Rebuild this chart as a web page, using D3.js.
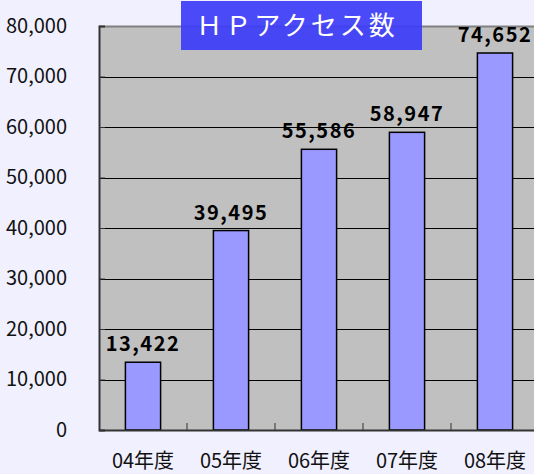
<!DOCTYPE html>
<html>
<head>
<meta charset="utf-8">
<script src="https://cdn.jsdelivr.net/npm/d3@7"></script>
<style>
  body { margin: 0; background: #f0f0ff; }
  svg { display: block; }
</style>
</head>
<body>
<div id="chart"></div>
<script>
// Chart data
const categories = ['04年度', '05年度', '06年度', '07年度', '08年度'];
const visits = [13422, 39495, 55586, 58947, 74652];
const yTicks = [0, 10000, 20000, 30000, 40000, 50000, 60000, 70000, 80000];
const chartTitle = 'ＨＰアクセス数';

const width = 534, height = 474;
const margin = { top: 26, right: -5, bottom: 44, left: 99 };
const plotW = width - margin.left - margin.right;
const plotH = height - margin.top - margin.bottom;
const font = '"Noto Sans CJK JP", "Noto Sans", sans-serif';

const svg = d3.select('#chart')
    .append('svg')
    .attr('width', width)
    .attr('height', height);

const g = svg.append('g')
    .attr('transform', `translate(${margin.left},${margin.top})`);

// Scales
const x = d3.scaleBand().domain(categories).range([0, plotW]).paddingInner(0.6).paddingOuter(0.3);
const y = d3.scaleLinear().domain([0, 80000]).range([plotH, 0]);

// Plot background
g.append('rect')
    .attr('width', plotW)
    .attr('height', plotH)
    .attr('fill', '#c0c0c0');

// Top border
g.append('line')
    .attr('x1', 0).attr('x2', plotW)
    .attr('y1', 0.5).attr('y2', 0.5)
    .attr('stroke', '#808080')
    .attr('stroke-width', 2);

// Gridlines
g.selectAll('.grid')
    .data(yTicks.slice(1, -1))
    .enter().append('line')
    .attr('class', 'grid')
    .attr('x1', 0).attr('x2', plotW)
    .attr('y1', d => Math.round(y(d)) + 0.5)
    .attr('y2', d => Math.round(y(d)) + 0.5)
    .attr('stroke', '#000')
    .attr('stroke-width', 1);

// Y axis
const yAxis = g.append('g')
    .call(d3.axisLeft(y).tickValues(yTicks).tickSize(-6).tickPadding(32)
        .tickFormat(d3.format(',')));
yAxis.select('.domain').attr('stroke', '#333').attr('stroke-width', 2);
yAxis.selectAll('.tick line').attr('stroke', '#333');
yAxis.selectAll('text')
    .attr('font-family', font)
    .attr('font-size', 20)
    .attr('fill', '#111');

// Bars
g.selectAll('.bar')
    .data(visits)
    .enter().append('rect')
    .attr('class', 'bar')
    .attr('x', (d, i) => x(categories[i]))
    .attr('y', d => y(d))
    .attr('width', x.bandwidth())
    .attr('height', d => plotH - y(d))
    .attr('fill', '#9999ff')
    .attr('stroke', '#000')
    .attr('stroke-width', 1.5);

// X axis
const xAxis = g.append('g')
    .attr('transform', `translate(0,${plotH})`)
    .call(d3.axisBottom(x).tickSize(0).tickPadding(24));
xAxis.select('.domain').attr('stroke', '#333').attr('stroke-width', 2);
xAxis.selectAll('text')
    .attr('font-family', font)
    .attr('font-size', 20)
    .attr('fill', '#111');

// Category separator ticks
g.selectAll('.cat-tick')
    .data(categories.slice(1))
    .enter().append('line')
    .attr('class', 'cat-tick')
    .attr('x1', d => x(d) - x.step() * x.paddingOuter())
    .attr('x2', d => x(d) - x.step() * x.paddingOuter())
    .attr('y1', plotH).attr('y2', plotH - 7)
    .attr('stroke', '#333');

// Value labels
g.selectAll('.value')
    .data(visits)
    .enter().append('text')
    .attr('class', 'value')
    .attr('x', (d, i) => x(categories[i]) + x.bandwidth() / 2)
    .attr('y', d => y(d) - 11)
    .attr('text-anchor', 'middle')
    .attr('font-family', font)
    .attr('font-weight', 'bold')
    .attr('font-size', 20)
    .attr('letter-spacing', 1.5)
    .attr('fill', '#000')
    .text(d => d3.format(',')(d));

// Title box
svg.append('rect')
    .attr('x', 181).attr('y', 1)
    .attr('width', 241).attr('height', 49)
    .attr('fill', '#3c3cf8')
    .attr('fill-opacity', 0.92);

svg.append('text')
    .attr('x', 297)
    .attr('y', 35)
    .attr('text-anchor', 'middle')
    .attr('font-family', '"DejaVu Serif", "Noto Sans CJK JP", serif')
    .attr('font-size', 26)
    .attr('letter-spacing', 3)
    .attr('fill', '#fff')
    .text(chartTitle);
</script>
</body>
</html>
